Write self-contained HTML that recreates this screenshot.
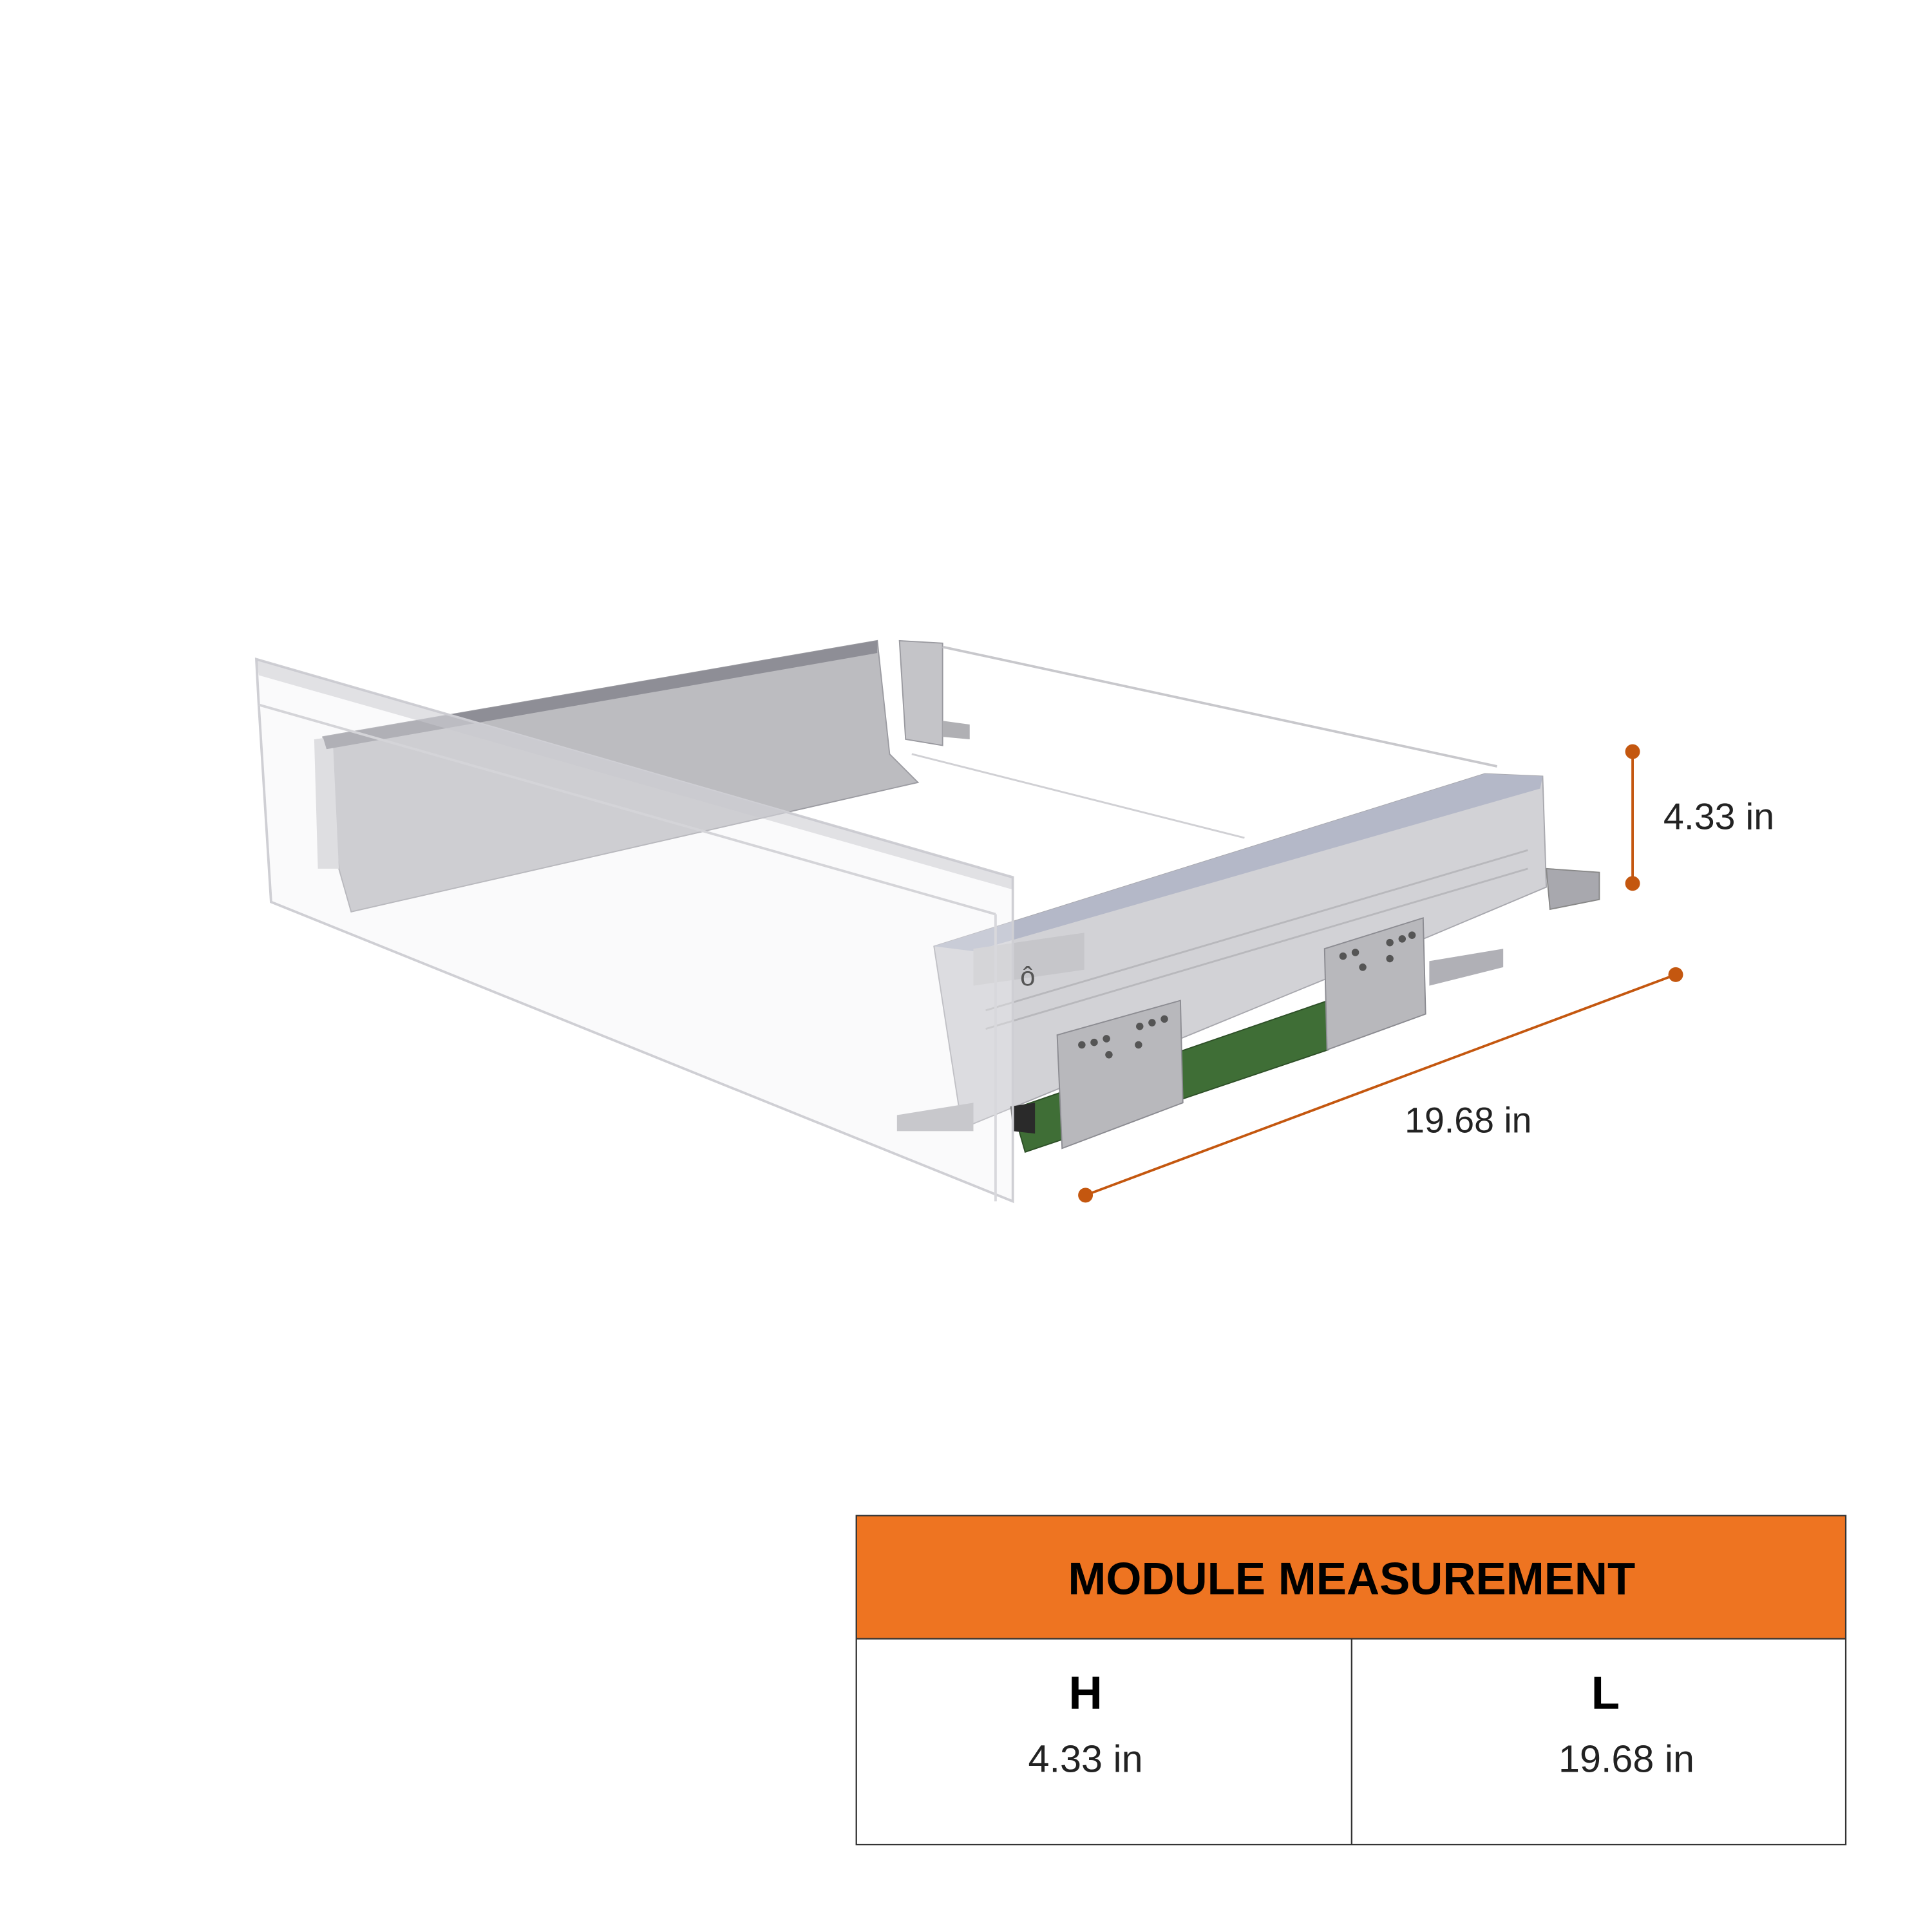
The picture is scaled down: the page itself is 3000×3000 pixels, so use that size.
<!DOCTYPE html>
<html><head><meta charset="utf-8"><style>
html,body{margin:0;padding:0;background:#fff;}
svg{display:block;}
</style></head><body>
<svg width="3000" height="3000" viewBox="0 0 1568 1568" xmlns="http://www.w3.org/2000/svg" font-family="'Liberation Sans', sans-serif">
<rect width="1568" height="1568" fill="#fff"/>
<polygon points="730,520 765,522 765,605 735,600" fill="#c4c4c8" stroke="#9a9aa0" stroke-width="1"/>
<polygon points="765,585 787,588 787,600 765,598" fill="#b0b0b4"/>
<polyline points="765,525 1215,622" fill="none" stroke="#c8c8cc" stroke-width="2"/>
<polyline points="740,612 1010,680" fill="none" stroke="#d0d0d4" stroke-width="1.5"/>
<polygon points="262,598 712,520 722,612 745,635 285,740 275,705" fill="#bcbcc0" stroke="#9c9ca2" stroke-width="1"/>
<polygon points="255,600 270,598 275,705 258,705" fill="#d4d4d8"/>
<polygon points="262,598 712,520 712,530 265,608" fill="#8e8e96"/>
<polygon points="758,768 1205,628 1252,630 1255,720 1160,760 790,912 780,910" fill="#d2d2d6" stroke="#a8a8ae" stroke-width="1"/>
<polygon points="758,768 1205,628 1252,630 1250,640 790,772" fill="#b4b8c8"/>
<line x1="800" y1="820" x2="1240" y2="690" stroke="#b8b8bc" stroke-width="1.5"/>
<line x1="800" y1="835" x2="1240" y2="705" stroke="#b8b8bc" stroke-width="1.5"/>
<polygon points="790,770 880,757 880,787 790,800" fill="#c6c6ca"/>
<text x="828" y="800" font-size="22" fill="#555">ô</text>
<polygon points="1255,705 1298,708 1298,730 1258,738" fill="#a8a8ae" stroke="#888" stroke-width="1"/>
<polygon points="1160,780 1220,770 1220,785 1160,800" fill="#b0b0b6"/>
<polygon points="822,900 1078,812 1078,852 832,935" fill="#3f6e36" stroke="#2d4f27" stroke-width="1"/>
<polygon points="820,898 840,895 840,920 822,918" fill="#2a2a2a"/>
<polygon points="858,840 958,812 960,895 862,932" fill="#b8b8bc" stroke="#8c8c92" stroke-width="1"/>
<polygon points="1075,770 1155,745 1157,823 1077,852" fill="#b8b8bc" stroke="#8c8c92" stroke-width="1"/>
<g fill="#555">
<circle cx="878" cy="848" r="3"/><circle cx="888" cy="846" r="3"/><circle cx="898" cy="843" r="3"/><circle cx="900" cy="856" r="3"/>
<circle cx="925" cy="833" r="3"/><circle cx="935" cy="830" r="3"/><circle cx="945" cy="827" r="3"/><circle cx="924" cy="848" r="3"/>
<circle cx="1090" cy="776" r="3"/><circle cx="1100" cy="773" r="3"/><circle cx="1106" cy="785" r="3"/>
<circle cx="1128" cy="765" r="3"/><circle cx="1138" cy="762" r="3"/><circle cx="1146" cy="759" r="3"/><circle cx="1128" cy="778" r="3"/>
</g>
<polygon points="208,535 822,712 822,975 220,732 210,572" fill="rgba(240,240,244,0.35)" stroke="#cfcfd4" stroke-width="2"/>
<polygon points="208,535 822,712 822,722 210,548" fill="rgba(200,200,206,0.5)"/>
<line x1="210" y1="572" x2="808" y2="742" stroke="#d4d4d8" stroke-width="2"/>
<line x1="808" y1="742" x2="808" y2="975" stroke="#d8d8dc" stroke-width="2"/>
<polygon points="728,905 790,895 790,918 728,918" fill="#c8c8cc"/>
<line x1="1325" y1="610" x2="1325" y2="717" stroke="#c4570f" stroke-width="2"/>
<circle cx="1325" cy="610" r="6" fill="#c4570f"/>
<circle cx="1325" cy="717" r="6" fill="#c4570f"/>
<text x="1350" y="673" font-size="30" fill="#222">4.33 in</text>
<line x1="881" y1="970" x2="1360" y2="791" stroke="#c4570f" stroke-width="2"/>
<circle cx="881" cy="970" r="6" fill="#c4570f"/>
<circle cx="1360" cy="791" r="6" fill="#c4570f"/>
<text x="1140" y="919" font-size="29" fill="#222">19.68 in</text>
<rect x="695" y="1230" width="803" height="100" fill="#ee7421"/>
<rect x="695" y="1230" width="803" height="267" fill="none" stroke="#333" stroke-width="1.2"/>
<line x1="695" y1="1330" x2="1498" y2="1330" stroke="#333" stroke-width="1.2"/>
<line x1="1097" y1="1330" x2="1097" y2="1497" stroke="#333" stroke-width="1.2"/>
<text x="1097" y="1294" font-size="37" font-weight="bold" text-anchor="middle" fill="#000">MODULE MEASUREMENT</text>
<text x="881" y="1387" font-size="38" font-weight="bold" text-anchor="middle" fill="#000">H</text>
<text x="881" y="1438" font-size="31" text-anchor="middle" fill="#222">4.33 in</text>
<text x="1303" y="1387" font-size="38" font-weight="bold" text-anchor="middle" fill="#000">L</text>
<text x="1320" y="1438" font-size="31" text-anchor="middle" fill="#222">19.68 in</text>
</svg>
</body></html>
